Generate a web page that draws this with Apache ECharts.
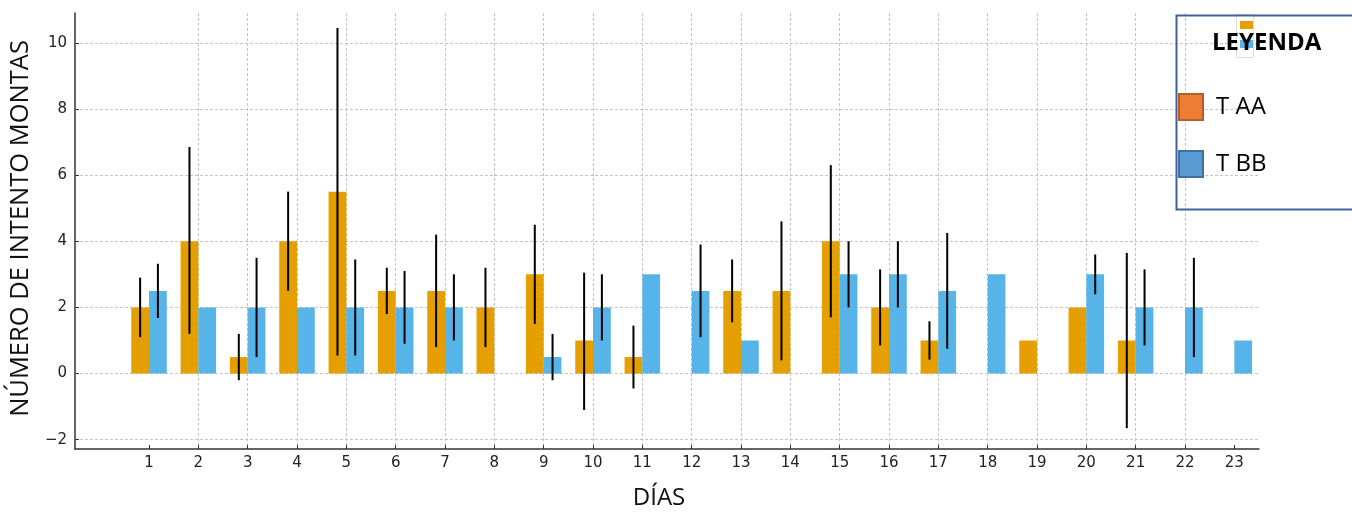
<!DOCTYPE html>
<html>
<head>
<meta charset="utf-8">
<title>Número de intento montas</title>
<script src="https://cdn.jsdelivr.net/npm/echarts@6/dist/echarts.min.js"></script>
<style>
  html, body { margin: 0; padding: 0; background: #fff; }
  #main { width: 1352px; height: 515px; }
</style>
</head>
<body>
<div id="main"></div>
<script>
// dias (etiquetas del eje x)
var DAYS = ['1','2','3','4','5','6','7','8','9','10','11','12','13','14','15','16','17','18','19','20','21','22','23'];
// medias
var T_AA = [2, 4, 0.5, 4, 5.5, 2.5, 2.5, 2, 3, 1, 0.5, 0, 2.5, 2.5, 4, 2, 1, 0, 1, 2, 1, 0, 0];
var T_BB = [2.5, 2, 2, 2, 2, 2, 2, 0, 0.5, 2, 3, 2.5, 1, 0, 3, 3, 2.5, 3, 0, 3, 2, 2, 1];
// barras de error (min / max), null = sin barra
var AA_LOW  = [1.1, 1.2, -0.2, 2.5, 0.55, 1.8, 0.8, 0.8, 1.5, -1.1, -0.45, null, 1.55, 0.4, 1.7, 0.85, 0.42, null, null, null, -1.65, null, null];
var AA_HIGH = [2.9, 6.85, 1.2, 5.5, 10.45, 3.2, 4.2, 3.2, 4.5, 3.05, 1.45, null, 3.45, 4.6, 6.3, 3.15, 1.58, null, null, null, 3.65, null, null];
var BB_LOW  = [1.68, null, 0.5, null, 0.55, 0.9, 1.0, null, -0.2, 1.0, null, 1.1, null, null, 2.0, 2.0, 0.75, null, null, 2.4, 0.85, 0.5, null];
var BB_HIGH = [3.32, null, 3.5, null, 3.45, 3.1, 3.0, null, 1.2, 3.0, null, 3.9, null, null, 4.0, 4.0, 4.25, null, null, 3.6, 3.15, 3.5, null];
var Y_TICKS = [-2, 0, 2, 4, 6, 8, 10];

var BAR_RATIO = 0.36;

(function(win){
    var chart = echarts.init(document.getElementById('main'), null, {renderer: 'canvas'});

    // la categoria 0 queda vacia para dejar el hueco a la izquierda
    var categories = [''].concat(DAYS);
    var aaData = [null].concat(T_AA);
    var bbData = [null].concat(T_BB);

    function errData(low, high){
        var out = [];
        for(var i=0; i<low.length; i++){
            if(low[i] == null) continue;
            out.push([i + 1, low[i], high[i]]);
        }
        return out;
    }

    function errRenderer(side){
        return function(params, api){
            var top = api.coord([api.value(0), api.value(2)]);
            var bot = api.coord([api.value(0), api.value(1)]);
            var band = api.size([1, 0])[0];
            var dx = side * band * BAR_RATIO / 2;
            return {
                type: 'line',
                shape: {x1: top[0] + dx, y1: top[1], x2: bot[0] + dx, y2: bot[1]},
                style: {stroke: '#000', lineWidth: 2}
            };
        };
    }

    var gridLine = {color: '#c4c4c4', type: [3, 2], width: 1};

    var option = {
        backgroundColor: '#fff',
        animation: false,
        textStyle: {fontFamily: 'DejaVu Sans'},
        grid: {left: 75, right: 93, top: 13, bottom: 63, containLabel: false},
        title: {
            text: 'LEYENDA',
            left: 1207, top: 26,
            textStyle: {fontFamily: 'Open Sans', fontWeight: 'bold', fontSize: 24, color: '#000'},
            z: 20
        },
        legend: {
            orient: 'vertical',
            left: 1178, top: 93,
            padding: 0,
            itemWidth: 24, itemHeight: 26, itemGap: 29,
            icon: 'rect',
            textStyle: {fontFamily: 'Open Sans', fontSize: 24, color: '#000', padding: [0, 0, 0, 8]},
            data: [
                {name: 'T AA', itemStyle: {color: '#ED7D31', borderColor: '#B25F28', borderWidth: 2}},
                {name: 'T BB', itemStyle: {color: '#5B9BD5', borderColor: '#41719C', borderWidth: 2}}
            ]
        },
        graphic: [
            // recuadro de la leyenda
            {type: 'rect', left: 1174, top: 13, z: 10,
                shape: {width: 200, height: 194},
                style: {fill: 'none', stroke: '#41609E', lineWidth: 2}},
            // restos de la leyenda original tras el titulo
            {type: 'rect', left: 1236, top: 14, z: 9,
                shape: {width: 17, height: 43},
                style: {fill: '#fff', stroke: '#dddddd', lineWidth: 1}},
            {type: 'rect', left: 1240, top: 21, z: 9,
                shape: {width: 13, height: 8}, style: {fill: '#E69F00'}},
            {type: 'rect', left: 1240, top: 40, z: 9,
                shape: {width: 13, height: 8}, style: {fill: '#56B4E9'}}
        ],
        xAxis: {
            type: 'category',
            data: categories,
            boundaryGap: true,
            name: 'DÍAS',
            nameLocation: 'middle',
            nameGap: 37,
            nameTextStyle: {fontFamily: 'Open Sans', fontSize: 24, color: '#111', padding: [0, 16, 0, 0]},
            axisLine: {onZero: false, lineStyle: {color: '#333', width: 1.5}},
            axisTick: {show: true, inside: true, length: 4, alignWithLabel: true,
                interval: function(i){ return i > 0; }, lineStyle: {color: '#333'}},
            axisLabel: {interval: 0, margin: 7, fontSize: 15, color: '#222'},
            splitLine: {show: true, alignWithLabel: true, showMinLine: false, showMaxLine: false,
                interval: function(i){ return i > 0; },
                lineStyle: gridLine}
        },
        yAxis: {
            type: 'value',
            min: -2.28, max: 10.9,
            splitNumber: 6,
            name: 'NÚMERO DE INTENTO MONTAS',
            nameLocation: 'middle',
            nameGap: 31,
            nameTextStyle: {fontFamily: 'Open Sans', fontSize: 25.5, color: '#111', padding: [0, 0, 0, 5]},
            axisLine: {show: true, lineStyle: {color: '#333', width: 1.5}},
            axisTick: {show: true, inside: true, length: 4, lineStyle: {color: '#333'}},
            axisLabel: {
                margin: 8, fontSize: 15, color: '#222',
                showMinLabel: false, showMaxLabel: false,
                formatter: function(v){
                    if(Y_TICKS.indexOf(v) < 0) return '';
                    return v < 0 ? '\u2212' + Math.abs(v) : String(v);
                }
            },
            splitLine: {show: true, showMinLine: false, showMaxLine: false, lineStyle: gridLine}
        },
        series: [
            {name: 'T AA', type: 'bar', data: aaData, barWidth: (BAR_RATIO * 100) + '%', barGap: '0%',
                itemStyle: {color: '#E69F00'}, z: 3},
            {name: 'T BB', type: 'bar', data: bbData, barWidth: (BAR_RATIO * 100) + '%', barGap: '0%',
                itemStyle: {color: '#56B4E9'}, z: 3},
            {name: 'err AA', type: 'custom', data: errData(AA_LOW, AA_HIGH),
                encode: {x: 0, y: [1, 2]}, renderItem: errRenderer(-1), z: 5},
            {name: 'err BB', type: 'custom', data: errData(BB_LOW, BB_HIGH),
                encode: {x: 0, y: [1, 2]}, renderItem: errRenderer(1), z: 5}
        ]
    };
    chart.setOption(option);
})(window);
</script>
</body>
</html>
